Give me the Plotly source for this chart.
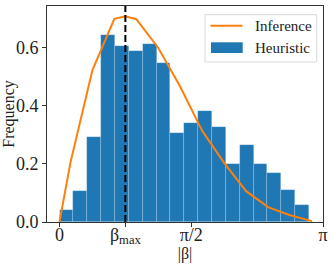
import math
import plotly.graph_objects as go

# ---- data ----
n_bins = 18
hist_max = 2.974
heur_heights = [0.041, 0.105, 0.291, 0.642, 0.605, 0.588, 0.611, 0.548, 0.306,
                0.340, 0.381, 0.328, 0.200, 0.264, 0.199, 0.170, 0.111, 0.059]
inf_x = [0.0, 0.131, 0.393, 0.654, 0.785, 0.916, 1.178, 1.440, 1.702,
         1.963, 2.225, 2.487, 2.749, 3.011]
inf_y = [0.0, 0.205, 0.522, 0.698, 0.707, 0.697, 0.598, 0.465, 0.313,
         0.203, 0.106, 0.051, 0.023, 0.003]
beta_max = math.pi / 4
x_tickvals = [0, math.pi / 4, math.pi / 2, math.pi]
x_ticktext = ["0", "β<sub>max</sub>", "π/2", "π"]
y_tickvals = [0.0, 0.2, 0.4, 0.6]
y_ticktext = ["0.0", "0.2", "0.4", "0.6"]

BLUE = "#1f77b4"
ORANGE = "#ff7f0e"
FONT = "Liberation Serif"

bw = hist_max / n_bins
centers = [bw * (i + 0.5) for i in range(n_bins)]

fig = go.Figure()
fig.add_trace(go.Bar(x=centers, y=heur_heights, width=[bw] * n_bins,
                     marker=dict(color=BLUE, line=dict(color="rgba(255,255,255,0.3)", width=0.6)),
                     name="Heuristic", showlegend=False))
fig.add_trace(go.Scatter(x=inf_x, y=inf_y, mode="lines",
                         line=dict(color=ORANGE, width=2), name="Inference", showlegend=False))

y_top = max(inf_y) * 1.05
fig.add_shape(type="line", x0=beta_max, x1=beta_max, y0=0, y1=y_top, xref="x", yref="y",
              line=dict(color="black", width=2, dash="7px,3px"))

W, H = 332, 269
L, R, T, B = 47, 323, 6, 222
def px(x): return (x - L) / (R - L)
def py(y): return (B - y) / (B - T)

# manual legend
fig.add_shape(type="rect", xref="paper", yref="paper", x0=px(205), x1=px(316.7), y0=py(62), y1=py(14.7),
              line=dict(color="#d9d9d9", width=1), fillcolor="rgba(255,255,255,0.8)", layer="above")
fig.add_shape(type="line", xref="paper", yref="paper", x0=px(210.5), x1=px(242.5), y0=py(25.7), y1=py(25.7),
              line=dict(color=ORANGE, width=2), layer="above")
fig.add_shape(type="rect", xref="paper", yref="paper", x0=px(211), x1=px(242.7), y0=py(53), y1=py(42.3),
              line=dict(width=0), fillcolor=BLUE, layer="above")
for txt, yy in [("Inference", 26), ("Heuristic", 48)]:
    fig.add_annotation(text=txt, xref="paper", yref="paper", x=px(253), y=py(yy),
                       xanchor="left", yanchor="middle", showarrow=False,
                       font=dict(family=FONT, size=15, color="#222"))

fig.update_layout(
    width=W, height=H,
    margin=dict(l=L, r=W - R, t=T, b=H - B, autoexpand=False),
    plot_bgcolor="white", paper_bgcolor="white",
    bargap=0, showlegend=False,
    font=dict(family=FONT, size=17, color="black"),
)
fig.update_xaxes(range=[-0.149, math.pi + 1e-6], tickvals=x_tickvals, ticktext=x_ticktext,
                 automargin=False, tickfont=dict(family=FONT, size=18, color="#222"),
                 ticklabelstandoff=-8,
                 showgrid=False, zeroline=False, showline=True, mirror=True,
                 linecolor="#333", linewidth=1, ticks="outside", ticklen=4, tickcolor="#333",
                 title=dict(text="|β|", font=dict(family=FONT, size=16, color="#222"), standoff=0))
fig.update_yaxes(range=[0, y_top], tickvals=y_tickvals, ticktext=y_ticktext,
                 automargin=False, tickfont=dict(family=FONT, size=18, color="#222"),
                 showgrid=False, zeroline=False, showline=True, mirror=True,
                 linecolor="#333", linewidth=1, ticks="outside", ticklen=4, tickcolor="#333",
                 title=dict(text="Frequency", font=dict(family=FONT, size=16, color="#222"), standoff=0))

fig.write_html("out.html", config={"displayModeBar": False},
               post_script="document.body.style.margin='0';")
